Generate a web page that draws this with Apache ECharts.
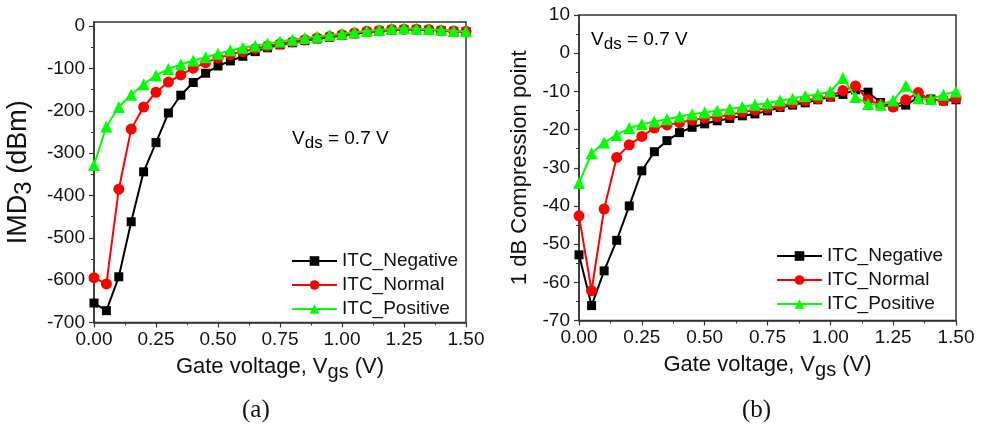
<!DOCTYPE html>
<html>
<head>
<meta charset="utf-8">
<script src="https://cdn.jsdelivr.net/npm/echarts@6/dist/echarts.min.js"></script>
<style>
  html, body { margin: 0; padding: 0; background: #ffffff; }
  #chart { width: 985px; height: 427px; }
</style>
</head>
<body>
<div id="chart"></div>
<script>
// Gate voltage sweep (V)
const gateVoltage = [0.00, 0.05, 0.10, 0.15, 0.20, 0.25, 0.30, 0.35, 0.40, 0.45,
  0.50, 0.55, 0.60, 0.65, 0.70, 0.75, 0.80, 0.85, 0.90, 0.95,
  1.00, 1.05, 1.10, 1.15, 1.20, 1.25, 1.30, 1.35, 1.40, 1.45, 1.50];

const seriesNames = ['ITC_Negative', 'ITC_Normal', 'ITC_Positive'];

// (a) IMD3 in dBm
const imd3Negative = [-654, -672, -592, -462, -344, -275, -205, -163, -133, -111,
  -94, -82, -71, -60, -51, -44, -39, -34, -30, -26,
  -22, -18, -14, -11, -9, -8, -8, -9, -10, -12, -13];
const imd3Normal = [-594, -609, -385, -243, -191, -156, -132, -115, -99, -86,
  -75, -67, -60, -53, -47, -42, -37, -32, -28, -24,
  -20, -16, -12, -10, -8, -7, -7, -8, -10, -11, -12];
const imd3Positive = [-328, -237, -191, -162, -137, -116, -101, -90, -81, -73,
  -65, -57, -51, -46, -41, -36, -32, -28, -25, -21,
  -18, -14, -11, -9, -6, -5, -6, -7, -9, -11, -12];

// (b) 1 dB compression point
const p1dbNegative = [-52.8, -66.1, -57, -49, -40, -30.8, -25.8, -22.9, -20.8, -19.4,
  -18.5, -17.7, -17.1, -16.4, -15.9, -15.1, -14.2, -13.6, -13.0, -12.2,
  -11.5, -10.8, -9.6, -10.2, -12.9, -14.0, -13.6, -11.6, -12.0, -12.5, -12.2];
const p1dbNormal = [-42.6, -62.2, -40.8, -27.3, -24, -21.8, -19.6, -18.8, -18.2, -17.5,
  -17.0, -16.6, -16.2, -15.4, -14.9, -14.4, -13.8, -13.1, -12.4, -11.9,
  -11.2, -9.8, -8.6, -12.2, -13.5, -14.1, -12.2, -10.3, -12.2, -12.4, -11.8];
const p1dbPositive = [-34, -26.2, -23.4, -21.4, -19.6, -18.6, -17.9, -17.3, -16.6, -16,
  -15.5, -15.1, -14.6, -14.1, -13.5, -13.1, -12.4, -11.9, -11.2, -10.8,
  -10, -6.5, -11.5, -13.3, -13.5, -12.4, -8.5, -11.8, -12, -10.9, -10];

// Tick values on the y axes
const imd3Ticks = [-700, -600, -500, -400, -300, -200, -100, 0];
const p1dbTicks = [-70, -60, -50, -40, -30, -20, -10, 0, 10];

const FONT = '"Liberation Sans", Arial, sans-serif';
const INK = '#111111';
const FRAME = '#333333';

const seriesColors = ['#000000', '#ff0000', '#00ff00'];
const seriesSymbols = ['rect', 'circle', 'triangle'];
const seriesSymbolSizes = [9, 11, 12];

const chart = echarts.init(document.getElementById('chart'), null, { renderer: 'canvas' });

function pairs(values) {
  return values.map((v, i) => [gateVoltage[i], v]);
}

const nameRich = {
  t: { fontFamily: FONT, fontSize: 22, color: INK, padding: [0, 0, 6, 0] },
  s: { fontFamily: FONT, fontSize: 20, color: INK, padding: [6, 0, 0, 0] }
};

const bigNameRich = {
  t: { fontFamily: FONT, fontSize: 27, color: INK, padding: [0, 0, 6, 0] },
  s: { fontFamily: FONT, fontSize: 24, color: INK, padding: [6, 0, 0, 0] }
};

function xAxisFor(gridIndex) {
  return {
    type: 'value',
    gridIndex: gridIndex,
    min: 0,
    max: 1.5,
    interval: 0.25,
    axisLine: { show: true, onZero: false, lineStyle: { color: FRAME, width: 1.5 } },
    axisTick: { show: true, length: 5, lineStyle: { color: FRAME, width: 1.2 } },
    minorTick: { show: true, splitNumber: 2, length: 3, lineStyle: { color: FRAME, width: 1 } },
    splitLine: { show: false },
    minorSplitLine: { show: false },
    axisLabel: {
      fontFamily: FONT, fontSize: 19, color: INK, margin: 8,
      formatter: function (v) { return v.toFixed(2); }
    },
    name: '{t|Gate voltage, V}{s|gs}{t| (V)}',
    nameLocation: 'middle',
    nameGap: 33,
    nameTextStyle: { rich: nameRich }
  };
}

function yAxisFor(gridIndex, min, max, interval, ticks, name, gap, rich) {
  return {
    type: 'value',
    gridIndex: gridIndex,
    min: min,
    max: max,
    interval: interval,
    axisLine: { show: true, onZero: false, lineStyle: { color: FRAME, width: 1.5 } },
    axisTick: { show: true, length: 5, customValues: ticks, lineStyle: { color: FRAME, width: 1.2 } },
    minorTick: { show: true, splitNumber: 2, length: 3, lineStyle: { color: FRAME, width: 1 } },
    splitLine: { show: false },
    minorSplitLine: { show: false },
    axisLabel: { fontFamily: FONT, fontSize: 19, color: INK, margin: 9, customValues: ticks },
    name: name,
    nameLocation: 'middle',
    nameGap: gap,
    nameTextStyle: { rich: rich }
  };
}

function lineSeries(idx, values, axisIndex) {
  return {
    name: seriesNames[idx],
    type: 'line',
    xAxisIndex: axisIndex,
    yAxisIndex: axisIndex,
    data: pairs(values),
    symbol: seriesSymbols[idx],
    symbolSize: seriesSymbolSizes[idx],
    showAllSymbol: true,
    lineStyle: { color: seriesColors[idx], width: 2 },
    itemStyle: { color: seriesColors[idx] },
    emphasis: { disabled: true },
    animation: false,
    z: 2 + idx
  };
}

function legendAt(left, top) {
  return {
    data: seriesNames,
    orient: 'vertical',
    left: left,
    top: top,
    itemWidth: 45,
    itemHeight: 12,
    itemGap: 4,
    selectedMode: false,
    textStyle: { fontFamily: FONT, fontSize: 19, color: INK, lineHeight: 20 }
  };
}

const annotationRich = {
  v: { fontFamily: FONT, fontSize: 19, color: INK, padding: [0, 0, 5, 0] },
  s: { fontFamily: FONT, fontSize: 17, color: INK, padding: [5, 0, 0, 0] }
};

chart.setOption({
  animation: false,
  backgroundColor: '#ffffff',
  grid: [
    { left: 94, right: 519, top: 22, bottom: 104.5, show: true, borderColor: FRAME, borderWidth: 1.5, containLabel: false },
    { left: 579, right: 29, top: 15, bottom: 106.5, show: true, borderColor: FRAME, borderWidth: 1.5, containLabel: false }
  ],
  xAxis: [xAxisFor(0), xAxisFor(1)],
  yAxis: [
    yAxisFor(0, -700, 10, 100, imd3Ticks, '{t|IMD}{s|3}{t| (dBm)}', 56, bigNameRich),
    yAxisFor(1, -70, 10, 10, p1dbTicks, '{t|1 dB Compression point}', 42, nameRich)
  ],
  legend: [legendAt(286, 246), legendAt(771, 241)],
  series: [
    lineSeries(0, imd3Negative, 0),
    lineSeries(1, imd3Normal, 0),
    lineSeries(2, imd3Positive, 0),
    lineSeries(0, p1dbNegative, 1),
    lineSeries(1, p1dbNormal, 1),
    lineSeries(2, p1dbPositive, 1)
  ],
  graphic: [
    {
      type: 'text', left: 292, top: 129, silent: true,
      style: { text: '{v|V}{s|ds}{v| = 0.7 V}', rich: annotationRich }
    },
    {
      type: 'text', left: 591, top: 30, silent: true,
      style: { text: '{v|V}{s|ds}{v| = 0.7 V}', rich: annotationRich }
    },
    {
      type: 'text', left: 242, top: 398, silent: true,
      style: { text: '(a)', fontFamily: '"Liberation Serif", "DejaVu Serif", serif', fontSize: 25, fill: INK }
    },
    {
      type: 'text', left: 742, top: 398, silent: true,
      style: { text: '(b)', fontFamily: '"Liberation Serif", "DejaVu Serif", serif', fontSize: 25, fill: INK }
    }
  ]
});
</script>
</body>
</html>
